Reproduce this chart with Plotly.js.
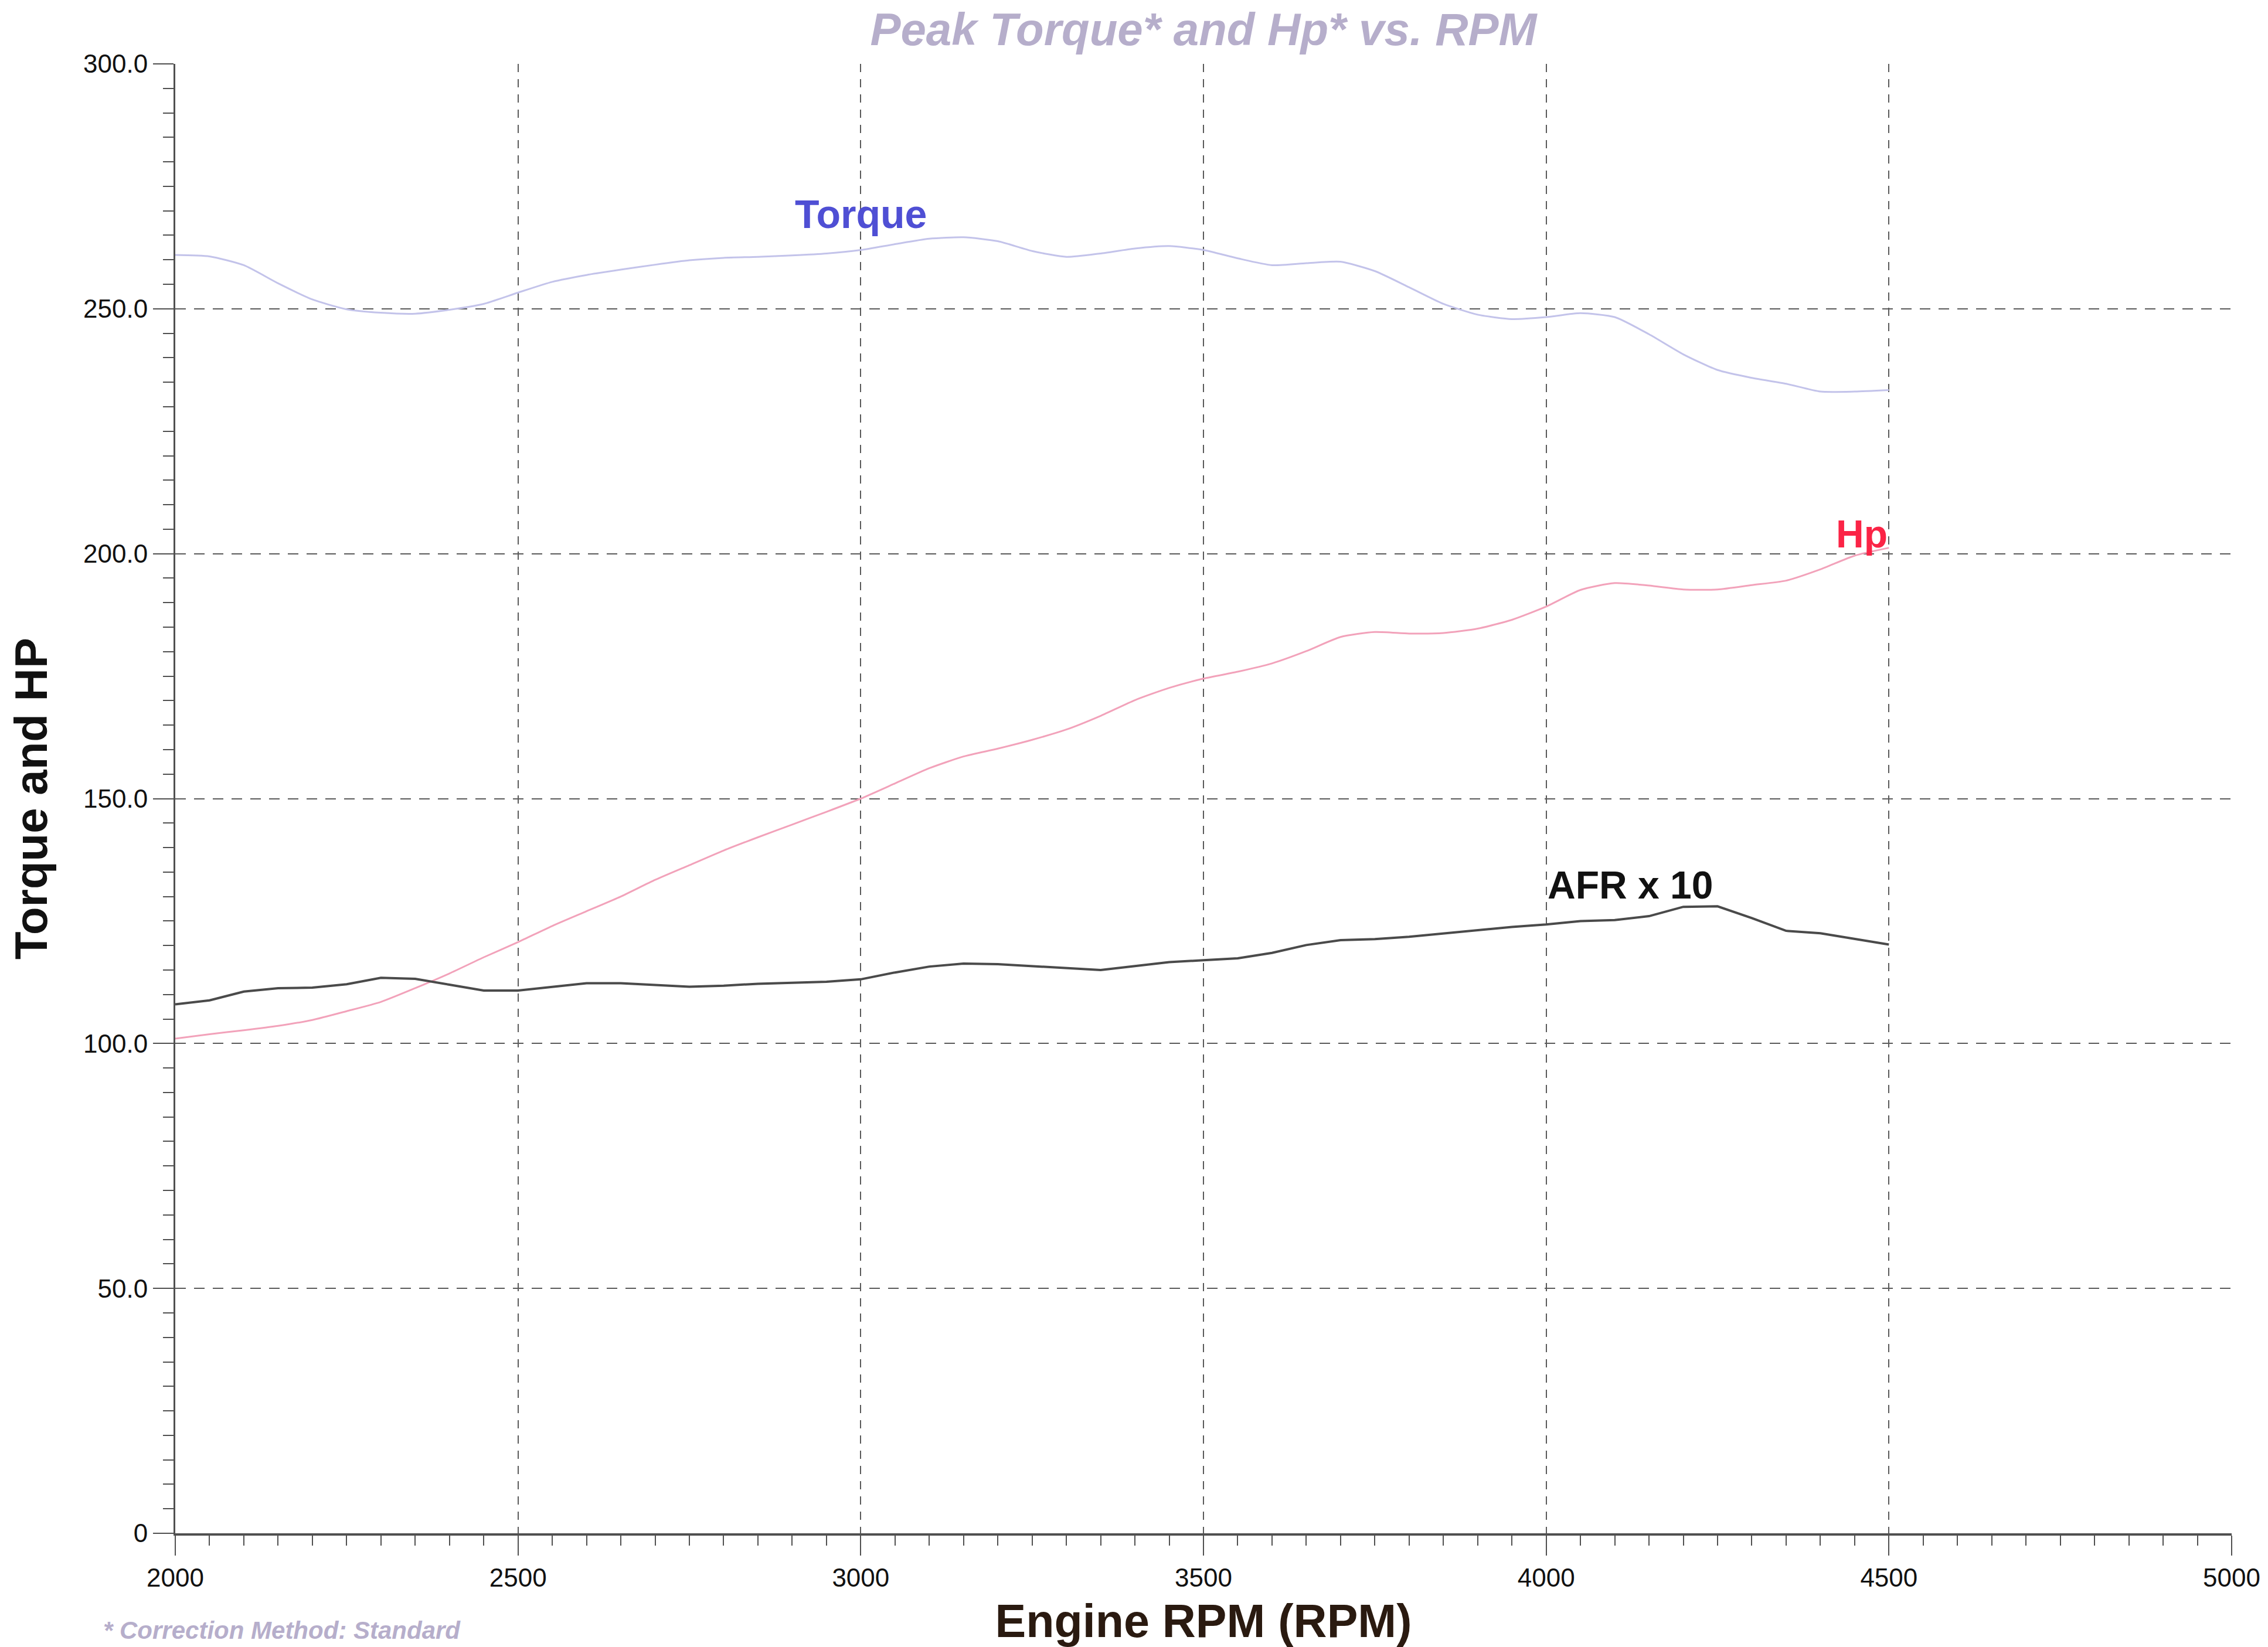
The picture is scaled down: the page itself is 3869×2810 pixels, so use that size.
<!DOCTYPE html>
<html>
<head>
<meta charset="utf-8">
<script src="https://cdn.plot.ly/plotly-3.0.1.min.js"></script>
<style>
  html, body { margin: 0; padding: 0; background: #ffffff; }
  #chart { width: 3869px; height: 2810px; }
</style>
</head>
<body>
<div id="chart"></div>
<script>
// ---- Data ----
const rpm = [
  2000, 2050, 2100, 2150, 2200, 2250, 2300, 2350, 2400, 2450,
  2500, 2550, 2600, 2650, 2700, 2750, 2800, 2850, 2900, 2950,
  3000, 3050, 3100, 3150, 3200, 3250, 3300, 3350, 3400, 3450,
  3500, 3550, 3600, 3650, 3700, 3750, 3800, 3850, 3900, 3950,
  4000, 4050, 4100, 4150, 4200, 4250, 4300, 4350, 4400, 4450, 4500
];
const torque = [
  261.0, 260.7, 258.9, 255.2, 251.9, 249.9, 249.2, 249.0, 249.8, 251.0,
  253.3, 255.5, 256.9, 258.0, 259.0, 259.9, 260.4, 260.6, 260.9, 261.3,
  262.0, 263.2, 264.3, 264.6, 263.8, 261.8, 260.6, 261.3, 262.3, 262.8,
  262.0, 260.3, 258.9, 259.3, 259.6, 257.7, 254.4, 251.0, 248.8, 247.9,
  248.3, 249.1, 248.3, 244.8, 240.7, 237.5, 235.9, 234.7, 233.1, 233.1, 233.4
];
const hp = [
  101.0, 101.9, 102.7, 103.6, 104.8, 106.6, 108.5, 111.3, 114.3, 117.6,
  120.7, 124.0, 127.0, 130.0, 133.4, 136.4, 139.4, 142.1, 144.7, 147.3,
  150.0, 153.1, 156.2, 158.6, 160.2, 162.0, 164.1, 166.9, 170.1, 172.6,
  174.5, 175.9, 177.6, 180.1, 183.0, 184.0, 183.7, 183.8, 184.7, 186.5,
  189.2, 192.6, 194.0, 193.5, 192.7, 192.7, 193.6, 194.5, 196.8, 199.6, 201.2
];
const afrX10 = [
  108.0, 108.8, 110.6, 111.3, 111.4, 112.1, 113.4, 113.2, 112.0, 110.8,
  110.8, 111.6, 112.3, 112.3, 112.0, 111.6, 111.8, 112.2, 112.4, 112.6,
  113.1, 114.5, 115.7, 116.3, 116.2, 115.8, 115.3, 115.0, 115.8, 116.6,
  117.0, 117.4, 118.5, 120.1, 121.1, 121.3, 121.8, 122.5, 123.1, 123.8,
  124.3, 125.0, 125.2, 126.0, 127.9, 128.0, 125.6, 123.0, 122.5, 121.4, 120.2
];
const xTickVals = [2000, 2500, 3000, 3500, 4000, 4500, 5000];
const yTickVals = [0, 50, 100, 150, 200, 250, 300];
const yTickLabels = ["0", "50.0", "100.0", "150.0", "200.0", "250.0", "300.0"];
const seriesNames = ["Torque", "Hp", "AFR x 10"];

// ---- Chart ----
const FONT = "Liberation Sans, Arial, Helvetica, sans-serif";

const traces = [
  { x: rpm, y: torque, name: seriesNames[0], type: "scatter", mode: "lines",
    line: { color: "#c3c3ea", width: 3, shape: "spline", smoothing: 0.6 } },
  { x: rpm, y: hp, name: seriesNames[1], type: "scatter", mode: "lines",
    line: { color: "#f2a2ba", width: 3, shape: "spline", smoothing: 0.6 } },
  { x: rpm, y: afrX10, name: seriesNames[2], type: "scatter", mode: "lines",
    line: { color: "#4a4a4a", width: 4 } }
];

const gridColor = "#5a5a5a";
const axisColor = "#505050";

const layout = {
  width: 3869,
  height: 2810,
  margin: { l: 299, r: 62, t: 109, b: 194, pad: 0 },
  paper_bgcolor: "#ffffff",
  plot_bgcolor: "#ffffff",
  showlegend: false,
  font: { family: FONT, color: "#111111", size: 44 },
  title: {
    text: "<b><i>Peak Torque* and Hp* vs. RPM</i></b>",
    font: { family: FONT, size: 78, color: "#b6aecb" },
    x: 0.5, xref: "paper", xanchor: "center",
    y: 1 - 50 / 2810, yref: "container", yanchor: "middle"
  },
  xaxis: {
    range: [2000, 5000],
    tickvals: xTickVals,
    tickformat: "d",
    ticks: "outside", ticklen: 34, tickwidth: 2, tickcolor: axisColor,
    tickfont: { family: FONT, size: 44, color: "#111111" },
    showline: true, linecolor: axisColor, linewidth: 4,
    showgrid: true, gridcolor: gridColor, gridwidth: 2, griddash: "14px,12px",
    zeroline: false,
    minor: { dtick: 50, tick0: 2000, ticks: "outside", ticklen: 17, tickwidth: 2, tickcolor: axisColor, showgrid: false },
    title: {
      text: "<b>Engine RPM (RPM)</b>",
      font: { family: FONT, size: 79, color: "#2a1a10" },
      standoff: 26
    },
    automargin: false,
    fixedrange: true
  },
  yaxis: {
    range: [0, 300],
    tickvals: yTickVals,
    ticktext: yTickLabels,
    ticks: "outside", ticklen: 35, tickwidth: 2, tickcolor: axisColor,
    tickfont: { family: FONT, size: 44, color: "#111111" },
    showline: true, linecolor: axisColor, linewidth: 3,
    showgrid: true, gridcolor: gridColor, gridwidth: 2, griddash: "18px,14px",
    zeroline: false,
    minor: { dtick: 5, tick0: 0, ticks: "outside", ticklen: 18, tickwidth: 2, tickcolor: axisColor, showgrid: false },
    title: {
      text: "<b>Torque and HP</b>",
      font: { family: FONT, size: 78, color: "#111111" },
      standoff: 36
    },
    automargin: false,
    fixedrange: true
  },
  annotations: [
    { x: 3000, y: 269.4, xref: "x", yref: "y", text: "<b>" + seriesNames[0] + "</b>",
      showarrow: false, xanchor: "center", yanchor: "middle",
      font: { family: FONT, size: 68, color: "#4f4fd4" } },
    { x: 4460, y: 204.0, xref: "x", yref: "y", text: "<b>" + seriesNames[1] + "</b>",
      showarrow: false, xanchor: "center", yanchor: "middle",
      font: { family: FONT, size: 66, color: "#fb2446" } },
    { x: 4000, y: 132.4, xref: "x", yref: "y", text: "<b>" + seriesNames[2] + "</b>",
      showarrow: false, xanchor: "left", yanchor: "middle",
      font: { family: FONT, size: 66, color: "#111111" } },
    { x: -0.0356, y: -0.0762, xref: "paper", yref: "paper",
      text: "<b><i>* Correction Method: Standard</i></b>",
      showarrow: false, xanchor: "left", yanchor: "bottom",
      font: { family: FONT, size: 42, color: "#b6aecb" } }
  ]
};

Plotly.newPlot("chart", traces, layout, { staticPlot: true, displayModeBar: false });
</script>
</body>
</html>
